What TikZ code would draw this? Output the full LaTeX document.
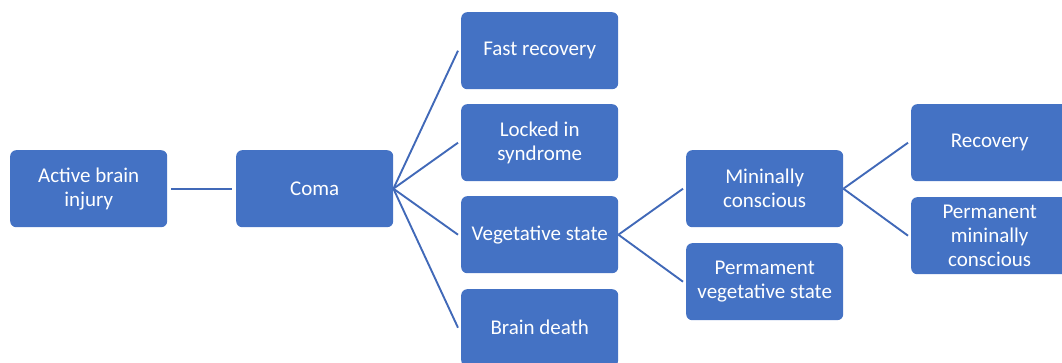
\documentclass[tikz,border=0pt]{standalone}
\usepackage{fontspec}
\setmainfont{Carlito}
\definecolor{boxblue}{HTML}{4472C4}
\definecolor{lineblue}{HTML}{4169B8}
\begin{document}
\begin{tikzpicture}[x=1pt,y=-1pt,
  box/.style={fill=boxblue, draw=none, rounded corners=6pt, minimum width=157pt, minimum height=77pt,
    text=white, align=center, inner sep=0pt, font=\fontsize{21}{24}\selectfont, anchor=north west},
  link/.style={draw=lineblue, line width=1.9pt}]
\useasboundingbox (0,0) rectangle (1062,362);
\clip (0,0) rectangle (1062,362);
\node[box] (abi) at (10,150) {Active brain\\injury};
\node[box] (coma) at (236,150) {Coma};
\node[box] (fast) at (461,12) {Fast recovery};
\node[box] (locked) at (461,104) {Locked in\\syndrome};
\node[box] (veg) at (461,196) {Vegetative state};
\node[box] (death) at (461,289) {Brain death};
\node[box] (mini) at (686,150) {Mininally\\conscious};
\node[box] (pvs) at (686,243) {Permament\\vegetative state};
\node[box] (rec) at (911,104) {Recovery};
\node[box] (pmc) at (911,197) {Permanent\\mininally\\conscious};
\draw[link] ([xshift=4pt]abi.east) -- ([xshift=-4pt]coma.east -| coma.west);
\foreach \t in {fast,locked,veg,death}
  \draw[link] (coma.east) -- ([xshift=-3pt]\t.west);
\foreach \t in {mini,pvs}
  \draw[link] (veg.east) -- ([xshift=-3pt]\t.west);
\foreach \t in {rec,pmc}
  \draw[link] (mini.east) -- ([xshift=-3pt]\t.west);
\end{tikzpicture}
\end{document}
